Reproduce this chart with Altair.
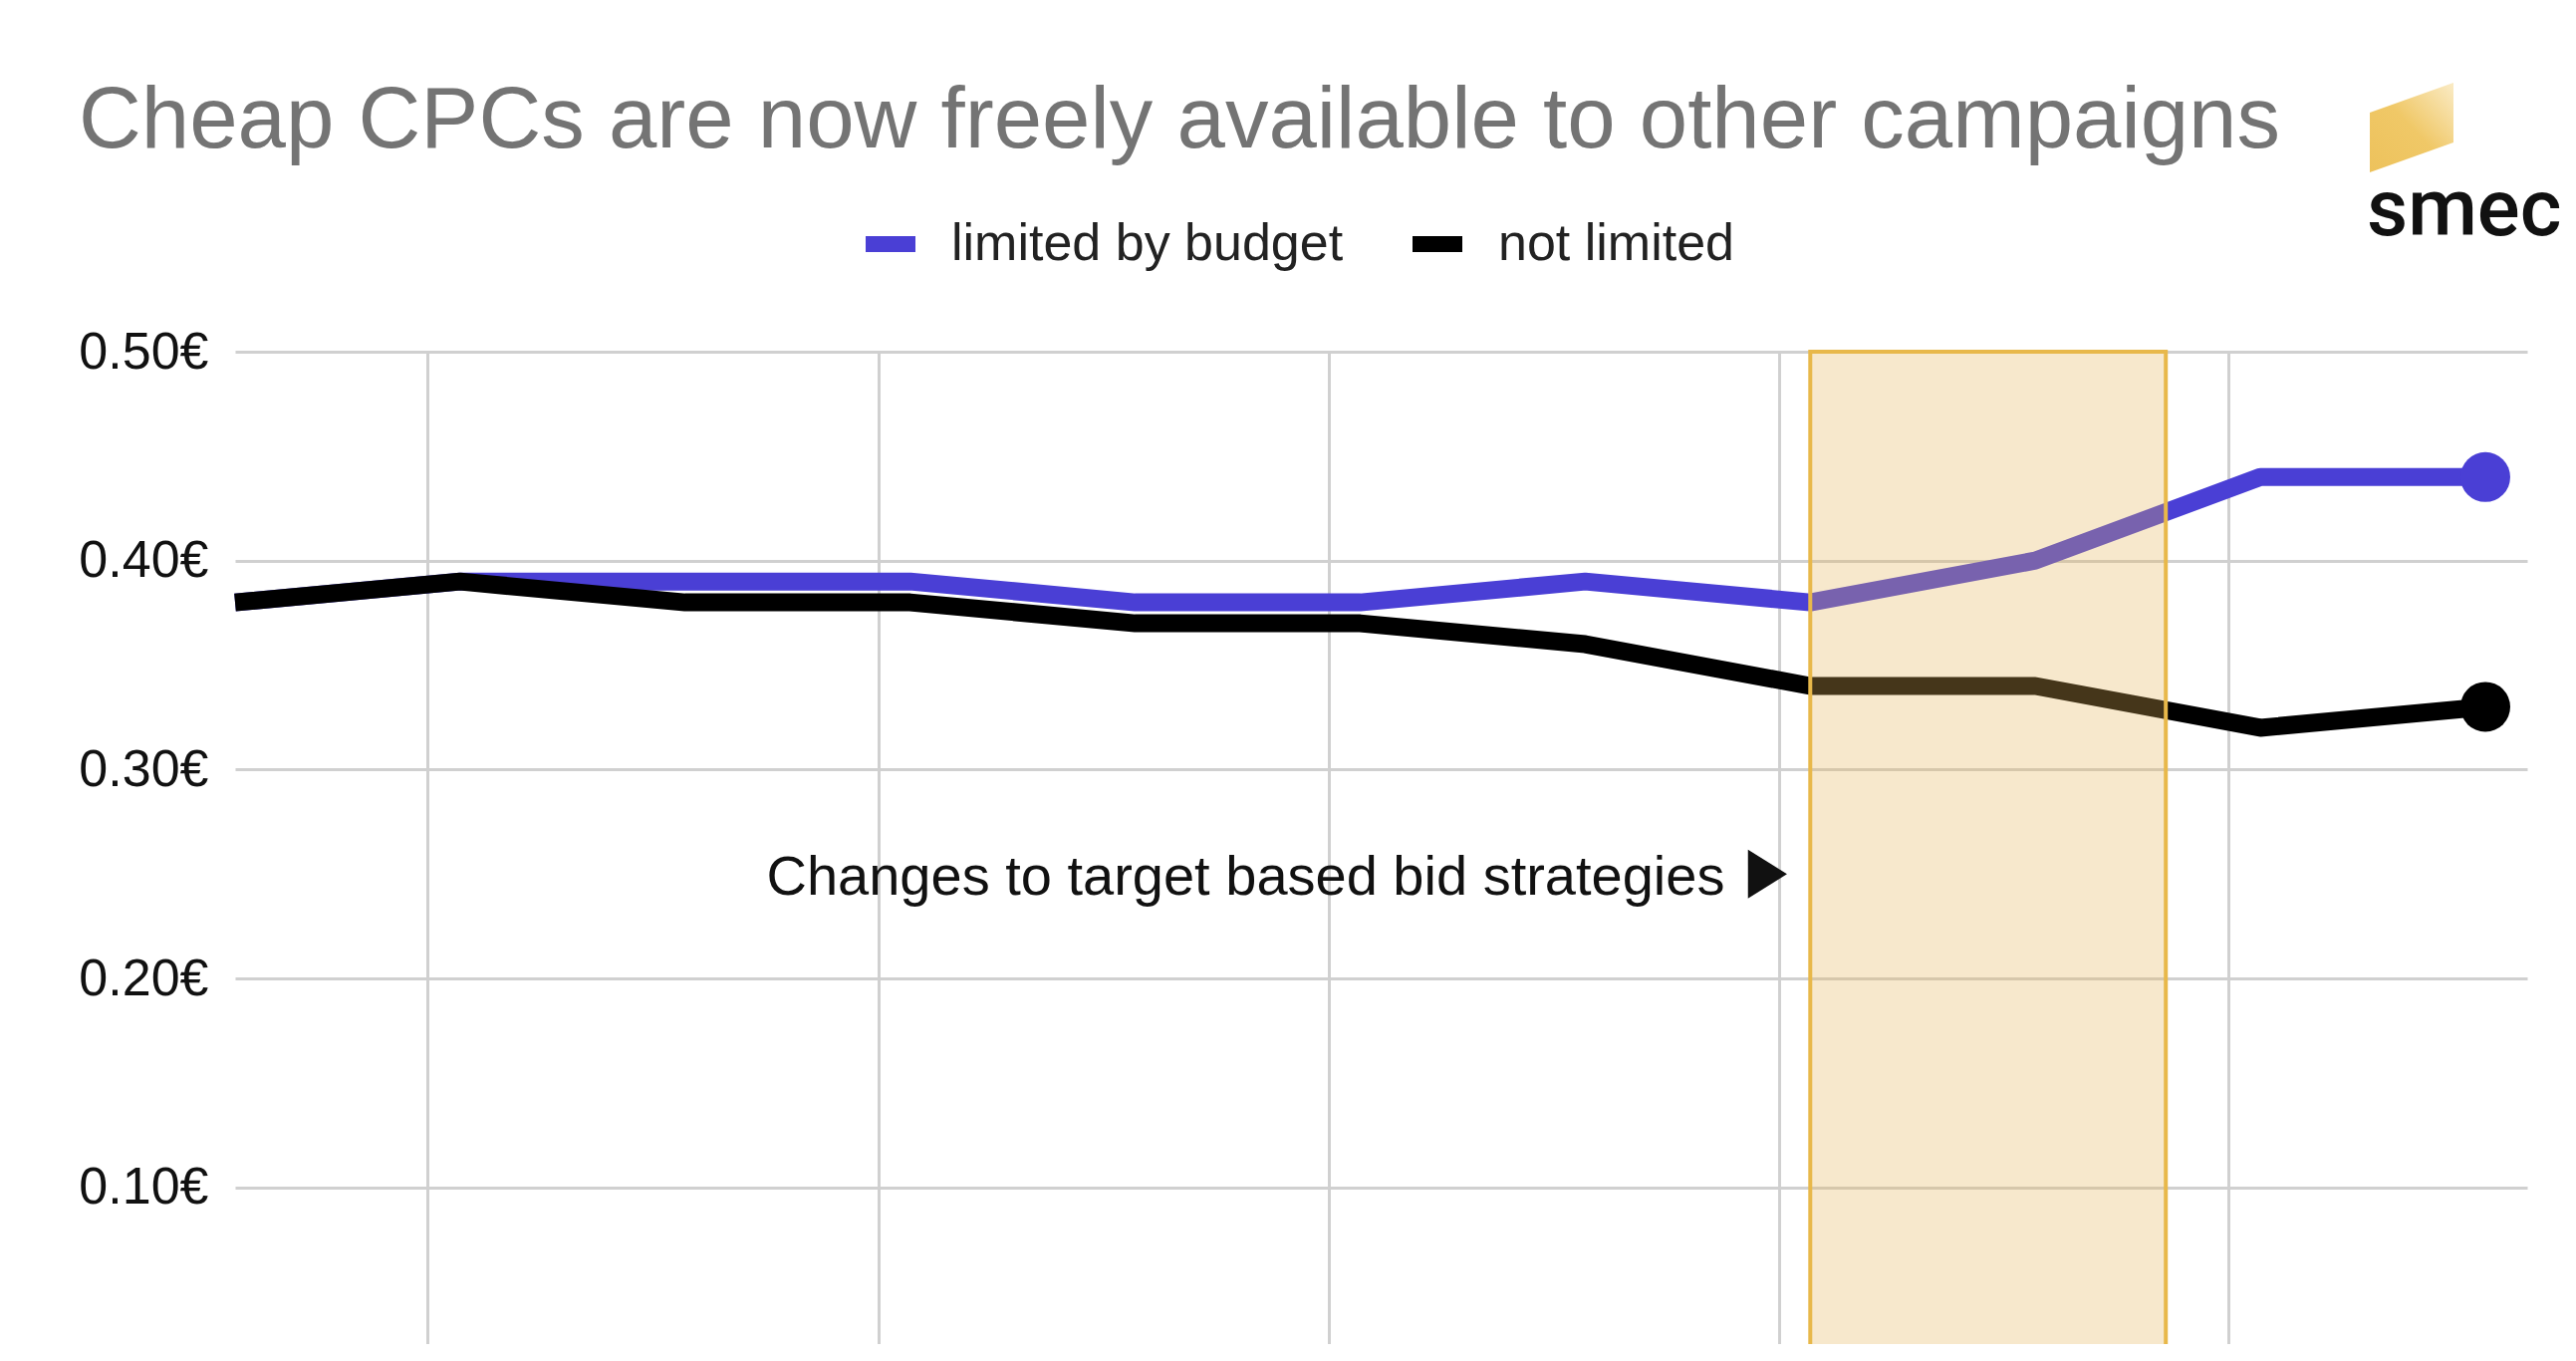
import altair as alt
import pandas as pd

# ---- data ----
week = [0, 1, 2, 3, 4, 5, 6, 7, 8, 9, 10]
limited_by_budget = [0.38, 0.39, 0.39, 0.39, 0.38, 0.38, 0.39, 0.38, 0.40, 0.44, 0.44]
not_limited = [0.38, 0.39, 0.38, 0.38, 0.37, 0.37, 0.36, 0.34, 0.34, 0.32, 0.33]
series_names = ["limited by budget", "not limited"]
series_colors = ["#4A3FD5", "#000000"]
y_ticks = [0.1, 0.2, 0.3, 0.4, 0.5]
x_grid = [0.855, 2.86, 4.86, 6.86, 8.86]
highlight_start = [7.0]
highlight_end = [8.58]
annotation_text = "Changes to target based bid strategies"
annotation_x = [6.62]
annotation_arrow_x = [6.81]
annotation_y = [0.25]
title_text = "Cheap CPCs are now freely available to other campaigns"
logo_text = "smec"

X_MAX = 10.186
Y_MIN = 0.025
Y_MAX = 0.5
FONT = "Liberation Sans"

rows = []
for name, vals in zip(series_names, [limited_by_budget, not_limited]):
    for w, v in zip(week, vals):
        rows.append({"week": w, "cpc": v, "series": name})
df = pd.DataFrame(rows)
last = df[df["week"] == week[-1]]

xscale = alt.Scale(domain=[0, X_MAX], nice=False, zero=False)
yscale = alt.Scale(domain=[Y_MIN, Y_MAX], nice=False, zero=False)
color = alt.Color(
    "series:N",
    scale=alt.Scale(domain=series_names, range=series_colors),
    legend=alt.Legend(
        title=None,
        orient="none",
        legendX=625,
        legendY=-141,
        direction="horizontal",
        symbolType="stroke",
        symbolSize=2500,
        symbolStrokeWidth=16,
        labelFontSize=52,
        labelFont=FONT,
        labelColor="#222222",
        labelOffset=28,
        labelLimit=0,
        columnPadding=37,
        padding=0,
    ),
)

xaxis = alt.Axis(values=x_grid, labels=False, ticks=False, domain=False, title=None,
                 grid=True, gridColor="#D0D0D0", gridWidth=3)
yaxis = alt.Axis(values=y_ticks, labelExpr="format(datum.value, '.2f') + '€'",
                 domain=False, ticks=False, labelPadding=27, labelFontSize=52,
                 labelFont=FONT, labelColor="#111111", title=None,
                 grid=True, gridColor="#D0D0D0", gridWidth=3)

lines = alt.Chart(df).mark_line(strokeWidth=18, strokeJoin="round").encode(
    x=alt.X("week:Q", scale=xscale, axis=xaxis),
    y=alt.Y("cpc:Q", scale=yscale, axis=yaxis),
    color=color,
    order="week:Q",
)

ends = alt.Chart(last).mark_point(filled=True, size=2500, opacity=1, shape="circle").encode(
    x=alt.X("week:Q", scale=xscale),
    y=alt.Y("cpc:Q", scale=yscale),
    color=alt.Color("series:N", scale=alt.Scale(domain=series_names, range=series_colors), legend=None),
)

hl = pd.DataFrame({"x0": highlight_start, "x1": highlight_end, "y0": [Y_MAX], "y1": [0.015]})
band = alt.Chart(hl).mark_rect(fill="#E6B457", fillOpacity=0.3, stroke="#E8B84A",
                               strokeWidth=4, strokeOpacity=1).encode(
    x=alt.X("x0:Q", scale=xscale), x2="x1:Q",
    y=alt.Y("y0:Q", scale=yscale), y2="y1:Q",
)

ann = pd.DataFrame({"x": annotation_x, "y": annotation_y, "t": [annotation_text]})
ann_text = alt.Chart(ann).mark_text(align="right", baseline="middle", fontSize=56, dy=4,
                                    font=FONT, color="#111111").encode(
    x=alt.X("x:Q", scale=xscale), y=alt.Y("y:Q", scale=yscale), text="t:N")

arr = pd.DataFrame({"x": annotation_arrow_x, "y": annotation_y})
ann_arrow = alt.Chart(arr).mark_point(shape="M-0.8,-1L0.8,0L-0.8,1Z", size=2401,
                                      filled=True, color="#111111", opacity=1).encode(
    x=alt.X("x:Q", scale=xscale), y=alt.Y("y:Q", scale=yscale))

one = pd.DataFrame({"t": [title_text], "logo": [logo_text]})
title = alt.Chart(one).mark_text(align="left", baseline="alphabetic", fontSize=87,
                                 font=FONT, color="#747474").encode(
    x=alt.value(-157), y=alt.value(-205), text="t:N")

logo_word = alt.Chart(one).mark_text(align="left", baseline="alphabetic", fontSize=80,
                                     font="Roboto", fontWeight=500, color="#111111").encode(
    x=alt.value(2140), y=alt.value(-117), text="logo:N")

logo_mark = alt.Chart(one).mark_point(
    shape="M-0.933,-0.333L0.933,-1L0.933,0.333L-0.933,1Z", size=8100, filled=True, opacity=1,
    strokeWidth=0,
    color=alt.Gradient(gradient="linear",
                       stops=[alt.GradientStop(color="#EDC25C", offset=0),
                              alt.GradientStop(color="#F0C867", offset=0.5),
                              alt.GradientStop(color="#FAEBC6", offset=1)],
                       x1=0, y1=1, x2=1, y2=0),
).encode(x=alt.value(2185), y=alt.value(-225))

chart = alt.layer(lines, ends, band, ann_text, ann_arrow, title, logo_word, logo_mark).properties(
    width=2301, height=996,
    autosize=alt.AutoSizeParams(type="none"),
    padding={"left": 228, "top": 345, "right": 40, "bottom": 0},
).configure_view(strokeWidth=0)

chart.save("out.html", embed_options={"renderer": "svg", "actions": False})
